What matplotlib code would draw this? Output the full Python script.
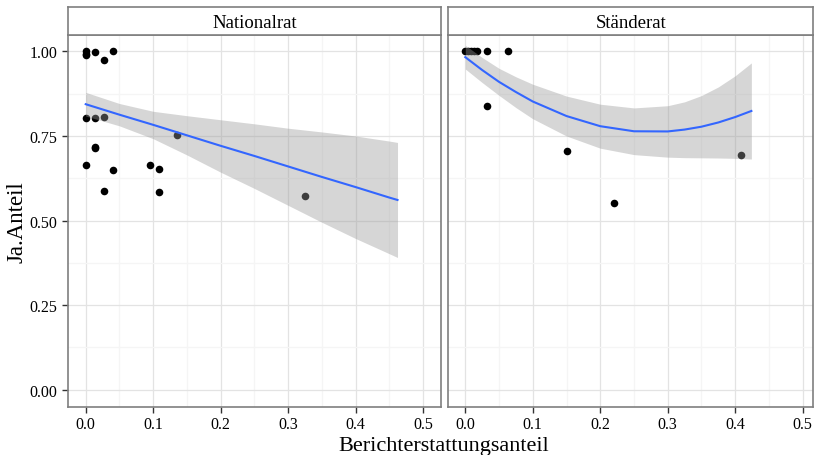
import matplotlib
matplotlib.use("Agg")
import matplotlib.pyplot as plt
import numpy as np

plt.rcParams['font.family'] = ['Liberation Serif', 'DejaVu Serif']

# ---- data ----
nr_x = [0, 0, 0, 0.0135, 0.027, 0.041, 0, 0.0133, 0.027, 0.135, 0.0133, 0.0133,
        0, 0.040, 0.0946, 0.108, 0.027, 0.108, 0.3246]
nr_y = [1.0, 0.993, 0.989, 0.997, 0.976, 1.0, 0.802, 0.804, 0.807, 0.754, 0.718, 0.714,
        0.664, 0.650, 0.664, 0.6525, 0.5875, 0.5855, 0.574]

sr_x = [0, 0.004, 0.008, 0.013, 0.017, 0.0316, 0.063, 0.0316, 0.1507, 0.220, 0.408]
sr_y = [1.0, 1.0, 1.0, 1.0, 1.0, 1.0, 1.0, 0.838, 0.705, 0.553, 0.695]

# smoother (linear fit) for Nationalrat
nr_fit_x = [0, 0.05, 0.1, 0.15, 0.2, 0.25, 0.3, 0.35, 0.4, 0.45, 0.462]
nr_fit_y = [0.844, 0.813, 0.783, 0.752, 0.721, 0.691, 0.660, 0.629, 0.599, 0.568, 0.561]
nr_fit_lo = [0.809, 0.780, 0.742, 0.694, 0.643, 0.595, 0.545, 0.495, 0.447, 0.402, 0.391]
nr_fit_hi = [0.879, 0.846, 0.823, 0.810, 0.798, 0.786, 0.773, 0.762, 0.750, 0.735, 0.731]

# smoother (quadratic fit) for Ständerat
sr_fit_x = [0, 0.025, 0.05, 0.075, 0.1, 0.15, 0.2, 0.25, 0.3, 0.325, 0.35, 0.375, 0.4, 0.424]
sr_fit_y = [0.983, 0.945, 0.910, 0.880, 0.852, 0.809, 0.779, 0.764, 0.7635, 0.769,
            0.7775, 0.790, 0.806, 0.824]
sr_fit_lo = [0.948, 0.908, 0.870, 0.834, 0.801, 0.750, 0.714, 0.695, 0.6875, 0.686,
             0.6855, 0.685, 0.684, 0.682]
sr_fit_hi = [1.018, 0.982, 0.950, 0.925, 0.903, 0.868, 0.844, 0.833, 0.8395, 0.851,
             0.8695, 0.895, 0.928, 0.966]

panels = ["Nationalrat", "Ständerat"]
x_ticks = [0.0, 0.1, 0.2, 0.3, 0.4, 0.5]
y_ticks = [0.0, 0.25, 0.5, 0.75, 1.0]

W, H = 814, 456
fig = plt.figure(figsize=(W / 100, H / 100), dpi=100)

border = "#7f7f7f"


def make_panel(left_px, right_px, xlim, title, px, py, fx, fy, flo, fhi, show_y):
    bottom_px, top_px = 407.7, 35.5
    ax = fig.add_axes([left_px / W, (H - bottom_px) / H,
                       (right_px - left_px) / W, (bottom_px - top_px) / H])
    ax.set_xlim(*xlim)
    ax.set_ylim(-0.05, 1.05)
    ax.set_xticks(x_ticks)
    ax.set_xticklabels(["%.1f" % t for t in x_ticks])
    ax.set_yticks(y_ticks)
    ax.set_xticks(np.arange(0.05, 0.55, 0.1), minor=True)
    ax.set_yticks([0.125, 0.375, 0.625, 0.875], minor=True)
    ax.grid(True, which="major", color="#e3e3e3", lw=0.9)
    ax.grid(True, which="minor", color="#f5f5f5", lw=0.9)
    ax.set_axisbelow(True)
    for s in ax.spines.values():
        s.set_color(border)
        s.set_linewidth(1.2)
    ax.tick_params(which="major", length=4, width=1, color="#333333",
                   labelsize=11.5, pad=3)
    ax.tick_params(axis="y", pad=4)
    ax.tick_params(which="minor", length=0)
    if show_y:
        ax.set_yticklabels(["%.2f" % t for t in y_ticks])
    else:
        ax.set_yticklabels([])
        ax.tick_params(axis="y", length=0)

    ax.scatter(px, py, s=30, color="black", lw=0, zorder=2)
    ax.fill_between(fx, flo, fhi, color="#999999", alpha=0.4, lw=0, zorder=3)
    ax.plot(fx, fy, color="#3366ff", lw=1.5, zorder=4)

    # facet strip
    sax = fig.add_axes([left_px / W, (H - top_px) / H,
                        (right_px - left_px) / W, (top_px - 8.3) / H])
    sax.set_xticks([])
    sax.set_yticks([])
    for s in sax.spines.values():
        s.set_color(border)
        s.set_linewidth(1.2)
    sax.text(0.5, 0.45, title, ha="center", va="center", fontsize=13.5,
             transform=sax.transAxes)
    return ax


ax1 = make_panel(68.3, 440.7, (-0.0258, 0.526), panels[0], nr_x, nr_y,
                 nr_fit_x, nr_fit_y, nr_fit_lo, nr_fit_hi, True)
ax2 = make_panel(448.3, 813.3, (-0.0252, 0.5158), panels[1], sr_x, sr_y,
                 sr_fit_x, sr_fit_y, sr_fit_lo, sr_fit_hi, False)

fig.text(444 / W, 1 - 451.5 / H, "Berichterstattungsanteil", ha="center",
         va="baseline", fontsize=16)
fig.text(17 / W, 1 - 222 / H, "Ja.Anteil", ha="center", va="center",
         rotation=90, fontsize=16.5)

fig.savefig("out.png", dpi=100)
